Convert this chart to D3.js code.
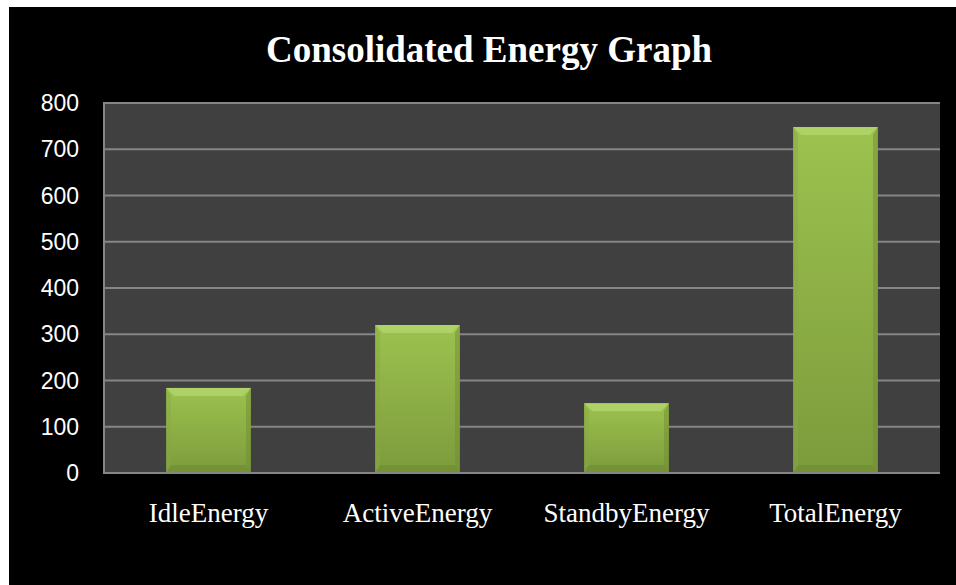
<!DOCTYPE html>
<html>
<head>
    <meta charset="utf-8">
    <title>Consolidated Energy Graph</title>
    <script src="https://d3js.org/d3.v7.min.js" charset="utf-8"></script>
    <style>
        html, body { margin: 0; padding: 0; background: #ffffff; }
    </style>
</head>
<body>
<script>
    // chart data
    const categories = ["IdleEnergy", "ActiveEnergy", "StandbyEnergy", "TotalEnergy"];
    const energyValues = [184, 320, 151, 748];
    const yTicks = [0, 100, 200, 300, 400, 500, 600, 700, 800];

    const width = 956, height = 585;
    const plot = { left: 104, right: 940, top: 103, bottom: 473 };

    const svg = d3.select("body").append("svg")
        .attr("width", width)
        .attr("height", height);

    // black chart area with the thin white strip at top and left
    svg.append("rect")
        .attr("x", 9).attr("y", 7)
        .attr("width", width - 9).attr("height", height - 7)
        .attr("fill", "#000");

    // gradient for the bars
    const defs = svg.append("defs");
    const grad = defs.append("linearGradient")
        .attr("id", "barGrad").attr("x1", 0).attr("y1", 0).attr("x2", 0).attr("y2", 1);
    grad.append("stop").attr("offset", "0%").attr("stop-color", "#9dc24f");
    grad.append("stop").attr("offset", "100%").attr("stop-color", "#7c9b3c");

    const x = d3.scaleBand()
        .domain(categories)
        .range([plot.left, plot.right])
        .padding(0);

    const y = d3.scaleLinear()
        .domain([0, 800])
        .range([plot.bottom, plot.top]);

    // plot background
    svg.append("rect")
        .attr("x", plot.left).attr("y", plot.top)
        .attr("width", plot.right - plot.left).attr("height", plot.bottom - plot.top)
        .attr("fill", "#404040");

    // gridlines
    svg.append("g")
        .selectAll("line")
        .data(yTicks)
        .join("line")
        .attr("x1", plot.left).attr("x2", plot.right)
        .attr("y1", d => y(d)).attr("y2", d => y(d))
        .attr("stroke", "#858585")
        .attr("stroke-width", 2);

    // left border
    svg.append("line")
        .attr("x1", plot.left).attr("x2", plot.left)
        .attr("y1", plot.top - 1).attr("y2", plot.bottom + 1)
        .attr("stroke", "#858585").attr("stroke-width", 2);

    // bars
    const barW = x.bandwidth() * 0.405;
    const bev = 8;
    const bars = svg.append("g")
        .selectAll("g")
        .data(categories.map((c, i) => ({ cat: c, value: energyValues[i] })))
        .join("g")
        .attr("transform", d => `translate(${x(d.cat) + (x.bandwidth() - barW) / 2},0)`);

    bars.append("rect")
        .attr("x", 0)
        .attr("y", d => y(d.value))
        .attr("width", barW)
        .attr("height", d => y(0) - y(d.value))
        .attr("fill", "url(#barGrad)");

    // bevel: top highlight
    bars.append("path")
        .attr("d", d => {
            const t = y(d.value);
            return `M0,${t}L${barW},${t}L${barW - bev},${t + bev}L${bev},${t + bev}Z`;
        })
        .attr("fill", "#b5d970").attr("opacity", 0.7);
    // bevel: left side
    bars.append("path")
        .attr("d", d => {
            const t = y(d.value), b = y(0);
            return `M0,${t}L${bev * 0.6},${t + bev}L${bev * 0.6},${b - bev}L0,${b}Z`;
        })
        .attr("fill", "#86a843").attr("opacity", 0.45);
    // bevel: right side
    bars.append("path")
        .attr("d", d => {
            const t = y(d.value), b = y(0);
            return `M${barW},${t}L${barW - bev * 0.6},${t + bev}L${barW - bev * 0.6},${b - bev}L${barW},${b}Z`;
        })
        .attr("fill", "#6f8d32").attr("opacity", 0.5);
    // bevel: bottom shade
    bars.append("path")
        .attr("d", d => {
            const b = y(0);
            return `M0,${b}L${bev * 0.6},${b - bev}L${barW - bev * 0.6},${b - bev}L${barW},${b}Z`;
        })
        .attr("fill", "#6a8830").attr("opacity", 0.5);

    // bottom border over the plot
    svg.append("line")
        .attr("x1", plot.left).attr("x2", plot.right)
        .attr("y1", plot.bottom).attr("y2", plot.bottom)
        .attr("stroke", "#858585").attr("stroke-width", 2);

    // y axis labels
    svg.append("g")
        .selectAll("text")
        .data(yTicks)
        .join("text")
        .attr("x", 79)
        .attr("y", d => y(d))
        .attr("dy", "0.35em")
        .attr("text-anchor", "end")
        .attr("fill", "#fff")
        .style("font-family", "'Liberation Sans', Arial, sans-serif")
        .style("font-size", "23px")
        .text(d => d);

    // x axis labels
    svg.append("g")
        .selectAll("text")
        .data(categories)
        .join("text")
        .attr("x", d => x(d) + x.bandwidth() / 2)
        .attr("y", 522)
        .attr("text-anchor", "middle")
        .attr("fill", "#fff")
        .style("font-family", "'Liberation Serif', 'Times New Roman', serif")
        .style("font-size", "27px")
        .text(d => d);

    // title
    svg.append("text")
        .attr("x", 489)
        .attr("y", 62)
        .attr("text-anchor", "middle")
        .attr("fill", "#fff")
        .style("font-family", "'Liberation Serif', 'Times New Roman', serif")
        .style("font-weight", "bold")
        .style("font-size", "37px")
        .text("Consolidated Energy Graph");
</script>
</body>
</html>
